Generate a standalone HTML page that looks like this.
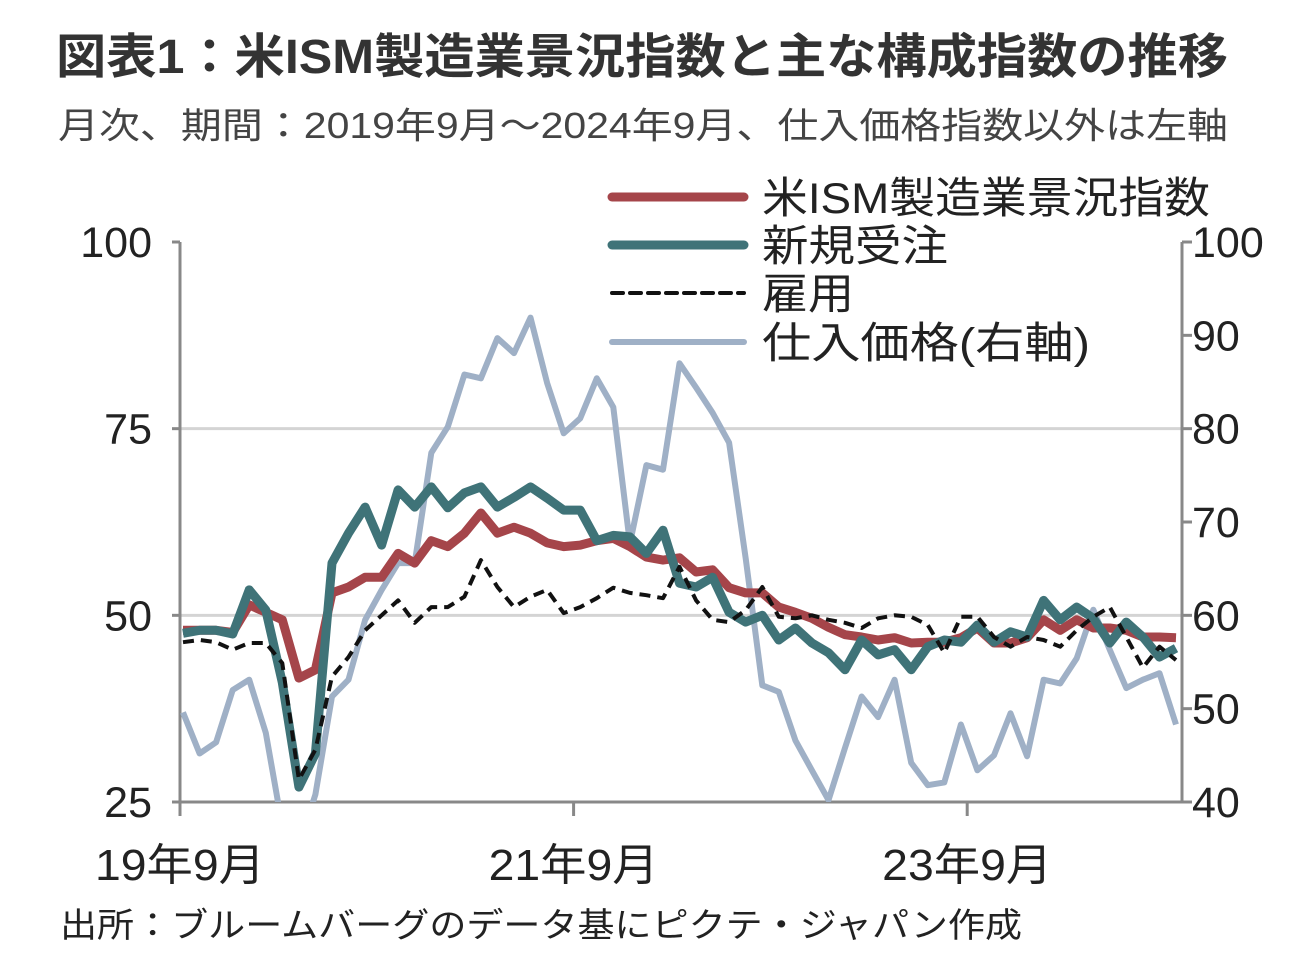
<!DOCTYPE html>
<html><head><meta charset="utf-8"><style>
body{margin:0;background:#fff;width:1307px;height:952px;overflow:hidden;font-family:"Liberation Sans","Noto Sans CJK JP",sans-serif;}
</style></head><body>
<svg width="1307" height="952" xmlns="http://www.w3.org/2000/svg" style="font-family:'Liberation Sans','Noto Sans CJK JP',sans-serif">
<text x="56" y="73" font-size="48" font-weight="bold" fill="#333" textLength="1172" lengthAdjust="spacingAndGlyphs">図表1：米ISM製造業景況指数と主な構成指数の推移</text>
<text x="58" y="138" font-size="36" fill="#444" textLength="1170" lengthAdjust="spacingAndGlyphs">月次、期間：2019年9月～2024年9月、仕入価格指数以外は左軸</text>
<g id="grid"></g>
<g id="axes"></g>
<defs><clipPath id="plotclip"><rect x="170" y="238" width="1020" height="564"/></clipPath></defs>
<g id="series" clip-path="url(#plotclip)"></g>
<g id="legend"></g>
<text x="60" y="937" font-size="34" fill="#222" textLength="962" lengthAdjust="spacingAndGlyphs">出所：ブルームバーグのデータ基にピクテ・ジャパン作成</text>
</svg>
<script>
const leftTicks=[25,50,75,100];
const rightTicks=[40,50,60,70,80,90,100];
const xTickIdx=[0,24,48];
const xTickLabels=["19年9月","21年9月","23年9月"];
const ism=[48,48,48,47.7,51.4,50.4,49.4,41.6,42.7,53,53.8,55.1,55.1,58.3,57,60,59.2,61,63.7,61,61.8,61,59.7,59.2,59.4,60,60.3,59.2,57.8,57.4,57.7,55.8,56.1,53.7,53,53,51.1,50.4,49.6,48.4,47.4,47.1,46.7,47,46.3,46.4,46.4,47,48.3,46.3,46.3,47,49.4,48,49.4,48.3,48.3,48,47.1,47.1,47];
const newOrders=[47.6,48,48,47.5,53.4,50.7,41,27,31.5,57,61,64.5,59.4,66.8,64.5,67.2,64.4,66.4,67.2,64.5,65.8,67.2,65.7,64.1,64.1,60,60.7,60.5,58.3,61.4,54.3,53.8,55.1,50.4,49.1,50,46.7,48.3,46.3,45,42.7,46.7,44.7,45.4,42.7,45.8,46.7,46.4,48.7,46.4,47.8,47.1,52,49.4,51.1,49.6,46.3,49.1,47.1,44.4,45.6];
const employment=[46.4,46.7,46.4,45.4,46.3,46.3,43.6,28,32,41.8,44.4,48,50,52,49,51.1,51.1,52.5,57.4,53.8,51.1,52.5,53.4,50.3,51.1,52.3,53.7,53,52.7,52.3,56.5,52,49.4,49.1,50.7,53.8,49.8,49.6,50,49.4,49,48.3,49.6,50,49.8,48.7,45,49.8,49.8,47.1,45.8,47.1,46.7,45.8,48,49.8,51.1,47.1,43,45.8,44];
const prices=[49.6,45.2,46.4,52,53.1,47.4,37.4,35.3,40.8,51.3,53.1,59.5,62.7,65.6,65.6,77.4,80.2,85.8,85.4,89.7,88.1,91.9,84.9,79.5,81.1,85.4,82.3,67.7,76.1,75.6,87,84.4,81.7,78.5,66.1,52.5,51.8,46.6,43.4,40.2,45.8,51.3,49.1,53.1,44.2,41.8,42.1,48.3,43.4,45,49.5,44.9,53.1,52.7,55.4,60.6,56.3,52.2,53.1,53.8,48.3];
const NS="http://www.w3.org/2000/svg";
const X0=180,X1=1182,YT=242,YB=802;
const xs=i=>X0+3+i*16.55;
const yl=v=>YB-(v-25)/75*(YB-YT);
const yr=v=>YB-(v-40)/60*(YB-YT);
function mk(tag,attrs,parent){const e=document.createElementNS(NS,tag);for(const k in attrs)e.setAttribute(k,attrs[k]);parent.appendChild(e);return e;}
const grid=document.getElementById('grid'),axes=document.getElementById('axes'),ser=document.getElementById('series'),leg=document.getElementById('legend');
leftTicks.forEach(t=>{
  if(t>25&&t<100){const g=mk('line',{x1:X0,x2:X1,y1:yl(t),y2:yl(t),stroke:'#d4d4d4','stroke-width':3},grid);
  
  }
  const tx=mk('text',{x:152,y:yl(t)+15,'font-size':43,'text-anchor':'end',fill:'#222'},axes);tx.textContent=t;
  
  
  const tk=mk('line',{x1:X0-8,x2:X0,y1:yl(t),y2:yl(t),stroke:'#888','stroke-width':3},axes);
  
  
});
rightTicks.forEach(t=>{
  const tx=mk('text',{x:1192,y:yr(t)+15,'font-size':43,fill:'#222'},axes);tx.textContent=t;
  
  
  const tk=mk('line',{x1:X1,x2:X1+10,y1:yr(t),y2:yr(t),stroke:'#888','stroke-width':3},axes);
  
  
});
let a=mk('line',{x1:X0,x2:X0,y1:YT,y2:YB,stroke:'#888','stroke-width':3},axes);


a=mk('line',{x1:X1,x2:X1,y1:YT,y2:YB,stroke:'#888','stroke-width':3},axes);


a=mk('line',{x1:X0,x2:X1,y1:YB,y2:YB,stroke:'#888','stroke-width':3},axes);


xTickIdx.forEach((idx,k)=>{
  const x=X0+idx*16.4;
  const tk=mk('line',{x1:x,x2:x,y1:YB,y2:YB+14,stroke:'#888','stroke-width':3},axes);
  
  
  const tx=mk('text',{x:x,y:880,'font-size':44,'text-anchor':'middle',fill:'#222',textLength:170,lengthAdjust:'spacingAndGlyphs'},axes);tx.textContent=xTickLabels[k];
  
  
});
function path(data,yf){return data.map((v,i)=>(i?'L':'M')+xs(i).toFixed(1)+','+yf(v).toFixed(1)).join(' ');}
let p;
p=mk('path',{d:path(prices,yr),fill:'none',stroke:'#9fb0c6','stroke-width':6,'stroke-linejoin':'round'},ser);


p=mk('path',{d:path(ism,yl),fill:'none',stroke:'#a5454a','stroke-width':9,'stroke-linejoin':'round'},ser);


p=mk('path',{d:path(newOrders,yl),fill:'none',stroke:'#3f7378','stroke-width':9,'stroke-linejoin':'round'},ser);


p=mk('path',{d:path(employment,yl),fill:'none',stroke:'#111','stroke-width':4,'stroke-dasharray':'11 7','stroke-linejoin':'round'},ser);


const legItems=[["米ISM製造業景況指数",'#a5454a',9,null,197,448],["新規受注",'#3f7378',9,null,245,186],["雇用",'#111',4,'11 7',293,92],["仕入価格(右軸)",'#9fb0c6',6,null,342,328]];
legItems.forEach(([lab,col,w,dash,y,len])=>{
  const l=mk('line',{x1:612,x2:744,y1:y,y2:y,stroke:col,'stroke-width':w,'stroke-linecap':'round'},leg);
  if(dash)l.setAttribute('stroke-dasharray',dash);
  
  
  const t=mk('text',{x:762,y:y+16,'font-size':43,fill:'#222',textLength:len,lengthAdjust:'spacingAndGlyphs'},leg);t.textContent=lab;
  
  
});
</script>
</body></html>
